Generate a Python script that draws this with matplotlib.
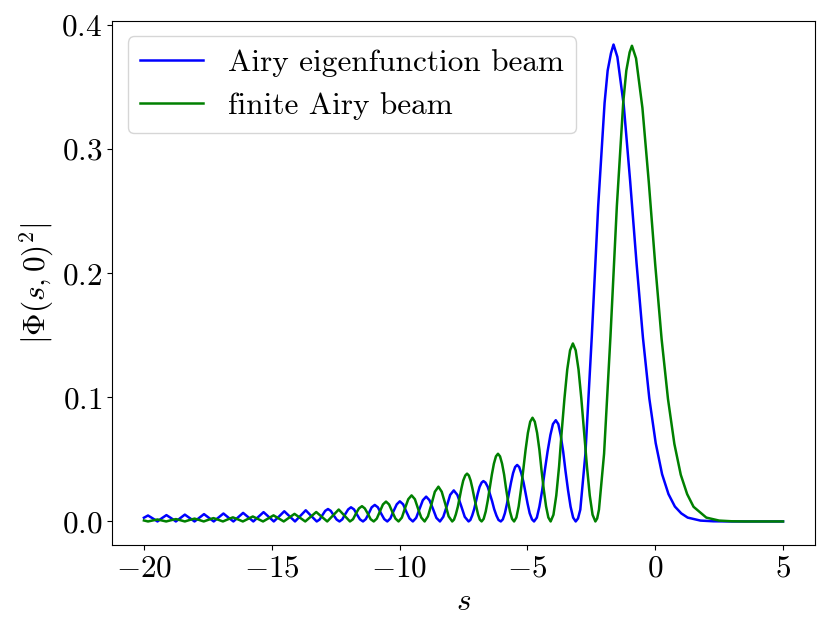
import matplotlib
matplotlib.use("Agg")
import matplotlib.pyplot as plt

plt.rcParams['font.family'] = 'serif'
plt.rcParams['font.serif'] = ['cmr10']
plt.rcParams['mathtext.fontset'] = 'cm'
plt.rcParams['axes.formatter.use_mathtext'] = True
plt.rcParams['font.size'] = 22.5

# Airy eigenfunction beam
blue_s = [-20.00, -19.84, -19.65, -19.47, -19.30, -19.12, -18.93, -18.75, -18.57, -18.40,
          -18.21, -18.02, -17.83, -17.65, -17.46, -17.27, -17.08, -16.89, -16.70, -16.50,
          -16.31, -16.12, -15.92, -15.72, -15.52, -15.32, -15.12, -14.92, -14.71, -14.51,
          -14.30, -14.09, -13.88, -13.67, -13.46, -13.24, -13.13, -13.02, -12.91, -12.80,
          -12.69, -12.58, -12.46, -12.35, -12.24, -12.13, -12.01, -11.90, -11.78, -11.67,
          -11.55, -11.43, -11.32, -11.20, -11.09, -10.97, -10.85, -10.73, -10.60, -10.48,
          -10.36, -10.24, -10.11, -9.99, -9.86, -9.74, -9.61, -9.48, -9.35, -9.22,
          -9.09, -8.96, -8.83, -8.69, -8.56, -8.42, -8.29, -8.15, -8.02, -7.88,
          -7.74, -7.59, -7.45, -7.30,
          -7.23, -7.16, -7.08, -7.01, -6.94, -6.87, -6.79, -6.72,
          -6.64, -6.55, -6.47, -6.38, -6.30, -6.21, -6.13, -6.04,
          -5.96, -5.88, -5.80, -5.72, -5.64, -5.56, -5.48, -5.40,
          -5.32, -5.24, -5.15, -5.07, -4.99, -4.91, -4.82, -4.74,
          -4.63, -4.53, -4.42, -4.32, -4.21, -4.10, -4.00, -3.89,
          -3.79, -3.70, -3.60, -3.51, -3.41, -3.31, -3.21, -3.11,
          -3.02, -2.93, -2.73, -2.48, -2.23, -1.98, -1.86, -1.73, -1.63, -1.48,
          -1.23, -0.98, -0.73, -0.48, -0.23, 0.02, 0.27, 0.52, 0.77, 1.02,
          1.27, 1.77, 2.27, 3.00, 5.00]
blue_v = [0.0030, 0.0048, 0.0024, 0.0, 0.0026, 0.0051, 0.0026, 0.0, 0.0028, 0.0055,
          0.0028, 0.0, 0.0030, 0.0059, 0.0030, 0.0, 0.0032, 0.0064, 0.0032, 0.0,
          0.0035, 0.0069, 0.0035, 0.0, 0.0038, 0.0075, 0.0038, 0.0, 0.0041, 0.0082,
          0.0041, 0.0, 0.0045, 0.0090, 0.0045, 0.0, 0.0015, 0.0050, 0.0085, 0.0100,
          0.0085, 0.0050, 0.0015, 0.0, 0.0017, 0.0057, 0.0097, 0.0114, 0.0097, 0.0057,
          0.0017, 0.0, 0.0019, 0.0067, 0.0114, 0.0133, 0.0114, 0.0067, 0.0019, 0.0,
          0.0024, 0.0081, 0.0138, 0.0162, 0.0138, 0.0081, 0.0024, 0.0, 0.0029, 0.0100,
          0.0171, 0.0200, 0.0171, 0.0100, 0.0029, 0.0, 0.0037, 0.0125, 0.0214, 0.0250,
          0.0214, 0.0125, 0.0037, 0.0,
          0.0012, 0.0047, 0.0100, 0.0163, 0.0225, 0.0278, 0.0313, 0.0325,
          0.0313, 0.0278, 0.0225, 0.0163, 0.0100, 0.0047, 0.0012, 0.0,
          0.0017, 0.0066, 0.0141, 0.0228, 0.0314, 0.0389, 0.0438, 0.0455,
          0.0438, 0.0389, 0.0314, 0.0228, 0.0141, 0.0066, 0.0017, 0.0,
          0.0031, 0.0119, 0.0252, 0.0408, 0.0563, 0.0696, 0.0784, 0.0815,
          0.0784, 0.0696, 0.0563, 0.0408, 0.0252, 0.0119, 0.0031, 0.0,
          0.0024, 0.0095, 0.0545, 0.149, 0.254, 0.337, 0.363, 0.377, 0.384, 0.374,
          0.335, 0.274, 0.208, 0.148, 0.099, 0.063, 0.038, 0.022, 0.012, 0.0065,
          0.0031, 0.0007, 0.00014, 0.0, 0.0]

# finite Airy beam
green_s = [-20.00, -19.84, -19.655, -19.47, -19.30, -19.13, -18.94, -18.75, -18.575, -18.40,
           -18.21, -18.02, -17.84, -17.66, -17.47, -17.28, -17.095, -16.91, -16.715, -16.52,
           -16.325, -16.13, -15.935, -15.74, -15.54, -15.34, -15.135, -14.93, -14.73, -14.53,
           -14.32, -14.11, -13.90, -13.69, -13.475, -13.26, -13.045, -12.83, -12.605, -12.38,
           -12.16, -11.94, -11.82, -11.71, -11.59, -11.47, -11.36, -11.24, -11.13, -11.01,
           -10.89, -10.77, -10.65, -10.53, -10.41, -10.29, -10.16, -10.04, -9.91, -9.79,
           -9.66, -9.53, -9.40, -9.28, -9.15, -9.02, -8.89, -8.75, -8.62, -8.48,
           -8.35, -8.21, -8.08, -7.94,
           -7.87, -7.80, -7.72, -7.65, -7.58, -7.51, -7.43, -7.36,
           -7.29, -7.22, -7.15, -7.08, -7.00, -6.93, -6.86, -6.79,
           -6.71, -6.63, -6.55, -6.47, -6.39, -6.31, -6.23, -6.15,
           -6.07, -5.99, -5.91, -5.84, -5.76, -5.68, -5.60, -5.52,
           -5.43, -5.34, -5.25, -5.16, -5.07, -4.98, -4.89, -4.80,
           -4.71, -4.62, -4.53, -4.45, -4.36, -4.27, -4.18, -4.09,
           -3.98, -3.87, -3.76, -3.66, -3.55, -3.44, -3.33, -3.22,
           -3.11, -3.00, -2.89, -2.78, -2.67, -2.56, -2.45, -2.34,
           -2.27, -2.20, -2.00, -1.75, -1.50, -1.25, -1.13, -1.00, -0.91, -0.75,
           -0.50, -0.25, 0.00, 0.25, 0.50, 0.75, 1.00, 1.25, 1.50, 2.00,
           2.50, 3.00, 3.50, 5.00]
green_v = [0.0008, 0.0, 0.0008, 0.0016, 0.0008, 0.0, 0.0010, 0.0019, 0.0010, 0.0,
           0.0012, 0.0023, 0.0012, 0.0, 0.0014, 0.0027, 0.0014, 0.0, 0.0017, 0.0033,
           0.0017, 0.0, 0.0020, 0.0040, 0.0020, 0.0, 0.0025, 0.0049, 0.0025, 0.0,
           0.0031, 0.0061, 0.0031, 0.0, 0.0038, 0.0076, 0.0038, 0.0, 0.0048, 0.0096,
           0.0048, 0.0, 0.0018, 0.0062, 0.0105, 0.0123, 0.0105, 0.0062, 0.0018, 0.0,
           0.0023, 0.0080, 0.0137, 0.0160, 0.0137, 0.0080, 0.0023, 0.0, 0.0031, 0.0105,
           0.0179, 0.0210, 0.0179, 0.0105, 0.0031, 0.0, 0.0041, 0.0140, 0.0239, 0.0280,
           0.0239, 0.0140, 0.0041, 0.0,
           0.0015, 0.0056, 0.0119, 0.0193, 0.0266, 0.0329, 0.0370, 0.0385,
           0.0370, 0.0329, 0.0266, 0.0193, 0.0119, 0.0056, 0.0015, 0.0,
           0.0021, 0.0080, 0.0168, 0.0273, 0.0377, 0.0465, 0.0524, 0.0545,
           0.0524, 0.0465, 0.0377, 0.0273, 0.0168, 0.0080, 0.0021, 0.0,
           0.0032, 0.0122, 0.0258, 0.0418, 0.0577, 0.0713, 0.0803, 0.0835,
           0.0803, 0.0713, 0.0577, 0.0418, 0.0258, 0.0122, 0.0032, 0.0,
           0.0054, 0.0209, 0.0443, 0.0717, 0.0990, 0.1224, 0.1378, 0.1433,
           0.1378, 0.1224, 0.0990, 0.0717, 0.0443, 0.0209, 0.0054, 0.0,
           0.0024, 0.0095, 0.0545, 0.149, 0.254, 0.3375, 0.363, 0.3777, 0.383, 0.3729,
           0.333, 0.273, 0.207, 0.147, 0.0986, 0.0624, 0.0376, 0.022, 0.0118, 0.0031,
           0.0007, 0.00014, 0.0, 0.0]

fig = plt.figure(figsize=(8.3, 6.38), dpi=100)
ax = fig.add_axes([0.1349, 0.1453, 0.8470, 0.8223])

ax.plot(blue_s, blue_v, color='b', lw=1.8, label='Airy eigenfunction beam')
ax.plot(green_s, green_v, color='g', lw=1.8, label='finite Airy beam')

ax.set_xlabel(r'$s$')
ax.set_ylabel(r'$|\Phi(s,0)^2|$')
ax.legend(loc='upper left')

fig.savefig('out.png', dpi=100)
